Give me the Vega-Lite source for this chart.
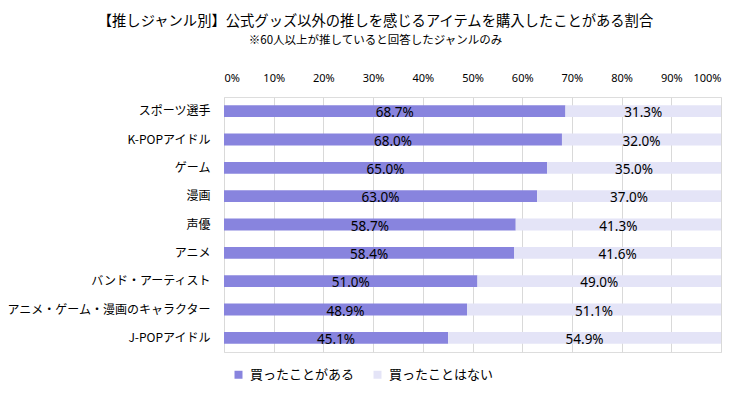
{
  "$schema": "https://vega.github.io/schema/vega-lite/v6.json",
  "width": 497,
  "height": 255,
  "autosize": "none",
  "padding": {"left": 224, "top": 97, "right": 29, "bottom": 42},
  "background": "white",
  "title": {
    "text": "【推しジャンル別】公式グッズ以外の推しを感じるアイテムを購入したことがある割合",
    "subtitle": "※60人以上が推していると回答したジャンルのみ",
    "anchor": "middle",
    "frame": "group",
    "dx": -97,
    "offset": 25,
    "font": "Noto Sans CJK JP",
    "fontSize": 14.3,
    "fontWeight": "normal",
    "color": "#000000",
    "subtitleFont": "Noto Sans CJK JP",
    "subtitleFontSize": 11.5,
    "subtitleColor": "#000000",
    "subtitlePadding": 6
  },
  "data": {
    "values": [
      {"genre": "スポーツ選手", "answer": "買ったことがある", "value": 0.687},
      {"genre": "スポーツ選手", "answer": "買ったことはない", "value": 0.313},
      {"genre": "K-POPアイドル", "answer": "買ったことがある", "value": 0.680},
      {"genre": "K-POPアイドル", "answer": "買ったことはない", "value": 0.320},
      {"genre": "ゲーム", "answer": "買ったことがある", "value": 0.650},
      {"genre": "ゲーム", "answer": "買ったことはない", "value": 0.350},
      {"genre": "漫画", "answer": "買ったことがある", "value": 0.630},
      {"genre": "漫画", "answer": "買ったことはない", "value": 0.370},
      {"genre": "声優", "answer": "買ったことがある", "value": 0.587},
      {"genre": "声優", "answer": "買ったことはない", "value": 0.413},
      {"genre": "アニメ", "answer": "買ったことがある", "value": 0.584},
      {"genre": "アニメ", "answer": "買ったことはない", "value": 0.416},
      {"genre": "バンド・アーティスト", "answer": "買ったことがある", "value": 0.510},
      {"genre": "バンド・アーティスト", "answer": "買ったことはない", "value": 0.490},
      {"genre": "アニメ・ゲーム・漫画のキャラクター", "answer": "買ったことがある", "value": 0.489},
      {"genre": "アニメ・ゲーム・漫画のキャラクター", "answer": "買ったことはない", "value": 0.511},
      {"genre": "J-POPアイドル", "answer": "買ったことがある", "value": 0.451},
      {"genre": "J-POPアイドル", "answer": "買ったことはない", "value": 0.549}
    ]
  },
  "transform": [
    {"stack": "value", "groupby": ["genre"], "sort": [{"field": "answer", "order": "ascending"}], "as": ["v0", "v1"]},
    {"calculate": "(datum.v0 + datum.v1) / 2", "as": "mid"}
  ],
  "encoding": {
    "y": {
      "field": "genre",
      "type": "nominal",
      "sort": ["スポーツ選手", "K-POPアイドル", "ゲーム", "漫画", "声優", "アニメ", "バンド・アーティスト", "アニメ・ゲーム・漫画のキャラクター", "J-POPアイドル"],
      "scale": {"paddingInner": 0.58, "paddingOuter": 0.29},
      "axis": {
        "title": null,
        "domain": false,
        "ticks": false,
        "labelPadding": 14,
        "labelLimit": 0,
        "labelFont": "Noto Sans CJK JP",
        "labelFontSize": 12,
        "labelColor": "#000000"
      }
    }
  },
  "layer": [
    {
      "mark": {"type": "bar"},
      "encoding": {
        "x": {
          "field": "v0",
          "type": "quantitative",
          "scale": {"domain": [0, 1], "nice": false},
          "axis": {
            "orient": "top",
            "title": null,
            "values": [0, 0.1, 0.2, 0.3, 0.4, 0.5, 0.6, 0.7, 0.8, 0.9, 1],
            "format": ".0%",
            "domain": false,
            "ticks": false,
            "labelPadding": 14,
            "grid": true,
            "gridColor": "#d9d9d9",
            "gridWidth": 1,
            "labelFont": "Noto Sans",
            "labelFontSize": 11,
            "labelColor": "#000000"
          }
        },
        "x2": {"field": "v1"},
        "color": {
          "field": "answer",
          "type": "nominal",
          "scale": {"domain": ["買ったことがある", "買ったことはない"], "range": ["#8884de", "#e4e4f7"]},
          "legend": {
            "title": null,
            "orient": "none",
            "direction": "horizontal",
            "legendX": 8,
            "legendY": 271,
            "symbolType": "square",
            "symbolSize": 64,
            "symbolStrokeWidth": 0,
            "labelFont": "Noto Sans CJK JP",
            "labelFontSize": 13,
            "labelColor": "#000000",
            "columnPadding": 16,
            "labelOffset": 5
          }
        }
      }
    },
    {
      "mark": {"type": "text", "font": "Noto Sans", "fontSize": 13.5, "color": "#000000", "baseline": "middle", "dy": 2},
      "encoding": {
        "x": {"field": "mid", "type": "quantitative"},
        "text": {"field": "value", "type": "quantitative", "format": ".1%"}
      }
    }
  ]
}
